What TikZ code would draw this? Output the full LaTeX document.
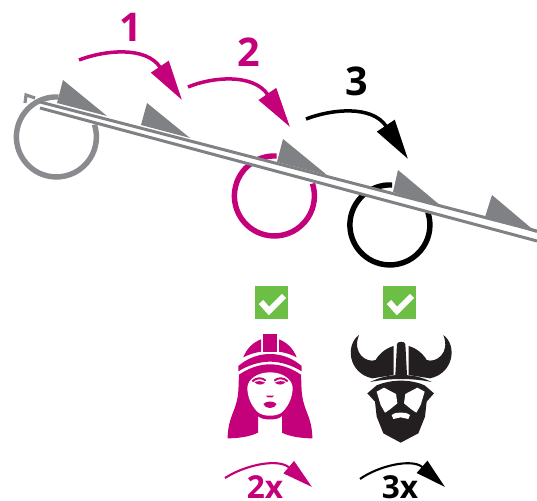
\documentclass[tikz,border=0pt]{standalone}
\usepackage{fontspec}
\setmainfont{Open Sans}
\usetikzlibrary{arrows.meta}
\definecolor{magentaline}{HTML}{C4007A}
\definecolor{railgray}{HTML}{808184}
\definecolor{ringgray}{HTML}{8A8B8E}
\definecolor{checkgreen}{HTML}{6CBE45}
\definecolor{vikingblack}{HTML}{231F20}
\tikzset{
  rail/.style={draw=railgray,line width=1.7pt},
  railgap/.style={draw=white,line width=4.5pt},
  tooth/.style={fill=railgray},
  ringline/.style={line width=3.1pt},
  bigjump/.style={line width=2pt,-{Triangle[length=22.8pt,width=11.7pt]}},
  smalljump/.style={line width=1.2pt,-{Triangle[length=17.4pt,width=9pt]}},
  biglabel/.style={font=\fontsize{22.5}{23}\selectfont\bfseries},
  smalllabel/.style={inner sep=0pt,font=\fontsize{18}{18}\selectfont\bfseries},
  checkbox/.style={fill=checkgreen,minimum size=18.8pt,inner sep=0pt},
  checkmark/.style={draw=white,line width=3.4pt},
  face/.style={x=0.006667cm,y=-0.006667cm}
}
\newcommand{\ringarc}[3]{\draw[ringline,#1] (#2,#3) ++(2,-40) arc[start angle=-87,end angle=-378,radius=40];}
\begin{document}
\begin{tikzpicture}[x=0.02cm,y=-0.02cm]
\useasboundingbox (0,0) rectangle (537,500);

\ringarc{ringgray}{56.5}{137}
\ringarc{magentaline}{274.5}{196}
\ringarc{black}{390}{225}
\draw[ringgray,line width=1.8pt] (25,103) -- (26,95) -- (35,98);

\coordinate (railA) at (40,105);
\coordinate (railB) at (537,236);
\draw[railgap] (railA) -- (railB);
\draw[rail] (40,102) -- (537,231);
\draw[rail] (40,108) -- (537,241);

\fill[tooth] (63,80) -- (57,103) -- (107,116) -- cycle;
\fill[tooth] (147,103) -- (141,125) -- (190,138) -- cycle;
\fill[tooth] (283,139) -- (277,162) -- (327,175) -- cycle;
\fill[tooth] (398,170) -- (393,192) -- (441,206) -- cycle;
\fill[tooth] (492,195) -- (485,217) -- (537,233) -- cycle;

\coordinate (startA) at (79,60);
\coordinate (endA) at (182,100);
\coordinate (startB) at (188,87);
\coordinate (endB) at (290,127);
\coordinate (startC) at (306,119);
\coordinate (endC) at (408,159);
\draw[bigjump,magentaline] (startA) .. controls (105,50) and (146,46) .. (endA);
\draw[bigjump,magentaline] (startB) .. controls (212,77) and (253,73) .. (endB);
\draw[bigjump,black] (startC) .. controls (332,109) and (372,105) .. (endC);
\node[biglabel,magentaline] (labelA) at (131,27) {1};
\node[biglabel,magentaline] (labelB) at (249,52) {2};
\node[biglabel,black] (labelC) at (357,81) {3};

\node[checkbox] (checkB) at (271.5,302.5) {};
\node[checkbox] (checkC) at (399.5,302.5) {};
\draw[checkmark] (261,302) -- (269,311) -- (284,296);
\draw[checkmark] (389,302) -- (397,311) -- (412,296);

\begin{scope}[shift={(215,280)},face]
\fill[magentaline] (145,162) rectangle (185,215);
\fill[magentaline] (85,232) .. controls (95,205) and (115,187) .. (138,178) -- (138,215) .. controls (118,218) and (100,224) .. cycle;
\fill[magentaline] (245,232) .. controls (235,205) and (215,187) .. (192,178) -- (192,215) .. controls (212,218) and (230,224) .. cycle;
\fill[magentaline] (70,258) .. controls (100,232) and (135,222) .. (165,222) .. controls (195,222) and (230,232) .. (260,258) -- (260,274) .. controls (230,255) and (195,245) .. (165,245) .. controls (135,245) and (100,255) .. (70,274) -- cycle;
\fill[magentaline] (72,284) .. controls (105,262) and (135,253) .. (165,253) .. controls (195,253) and (225,262) .. (258,284) .. controls (260,320) and (258,345) .. (268,375) .. controls (275,400) and (292,425) .. (292,475) .. controls (260,475) and (225,470) .. (201,458) -- (201,408) .. controls (190,422) and (140,422) .. (129,408) -- (129,458) .. controls (105,470) and (70,475) .. (38,475) .. controls (38,425) and (55,400) .. (62,375) .. controls (72,345) and (70,320) .. (72,284) -- cycle;
\fill[white] (97,322) .. controls (100,295) and (130,277) .. (165,277) .. controls (200,277) and (230,295) .. (233,322) .. controls (233,350) and (222,375) .. (205,393) .. controls (190,412) and (140,412) .. (125,393) .. controls (108,375) and (97,350) .. (97,322) -- cycle;
\draw[magentaline,line width=1.1pt] (112,304) .. controls (124,292) and (142,292) .. (152,302);
\draw[magentaline,line width=1.1pt] (218,304) .. controls (206,292) and (188,292) .. (178,302);
\fill[magentaline] (118,306) .. controls (128,302) and (142,303) .. (150,308) .. controls (142,316) and (126,316) .. cycle;
\fill[magentaline] (212,306) .. controls (202,302) and (188,303) .. (180,308) .. controls (188,316) and (204,316) .. cycle;
\fill[magentaline] (153,347) -- (177,347) -- (172,352) -- (158,352) -- cycle;
\fill[magentaline] (145,372) .. controls (155,362) and (175,362) .. (185,372) .. controls (180,388) and (150,388) .. (145,372) -- cycle;
\end{scope}

\begin{scope}[shift={(335,280)},face]
\fill[vikingblack] (72,165) .. controls (30,195) and (40,280) .. (112,295) -- (176,285) -- (176,198) .. controls (150,205) and (130,225) .. (122,240) .. controls (95,250) and (50,220) .. cycle;
\fill[vikingblack] (325,165) .. controls (367,195) and (357,280) .. (285,295) -- (221,285) -- (221,198) .. controls (247,205) and (267,225) .. (275,240) .. controls (302,250) and (347,220) .. cycle;
\fill[vikingblack] (186,192) .. controls (188,183) and (209,183) .. (211,192) -- (216,285) -- (181,285) -- cycle;
\fill[vikingblack] (105,306) .. controls (140,290) and (165,285) .. (197,285) .. controls (232,285) and (258,290) .. (290,306) .. controls (260,300) and (230,297) .. (197,297) .. controls (168,297) and (138,300) .. (105,306) -- cycle;
\fill[vikingblack] (97,340) -- (125,316) .. controls (150,306) and (175,302) .. (197,302) .. controls (222,302) and (246,306) .. (269,316) -- (297,340) -- (275,365) -- (270,410) -- (250,460) -- (197,488) -- (145,460) -- (125,410) -- (120,365) -- cycle;
\fill[white] (125,335) -- (147,323) -- (183,342) -- (187,370) -- (165,388) -- (150,398) -- (137,375) -- cycle;
\fill[white] (269,335) -- (247,323) -- (211,342) -- (207,370) -- (229,388) -- (244,398) -- (257,375) -- cycle;
\fill[white] (170,405) .. controls (180,398) and (190,397) .. (197,398) .. controls (205,397) and (215,398) .. (225,405) -- (220,417) -- (197,412) -- (175,417) -- cycle;
\end{scope}

\coordinate (startD) at (225,478);
\coordinate (endD) at (312,487);
\coordinate (startE) at (360,479);
\coordinate (endE) at (445,487);
\draw[smalljump,magentaline] (startD) .. controls (245,465) and (278,458) .. (endD);
\draw[smalljump,black] (startE) .. controls (378,466) and (412,458) .. (endE);
\node[smalllabel,magentaline] (labelD) at (265,487) {2x};
\node[smalllabel,black] (labelE) at (400,487) {3x};
\end{tikzpicture}
\end{document}
